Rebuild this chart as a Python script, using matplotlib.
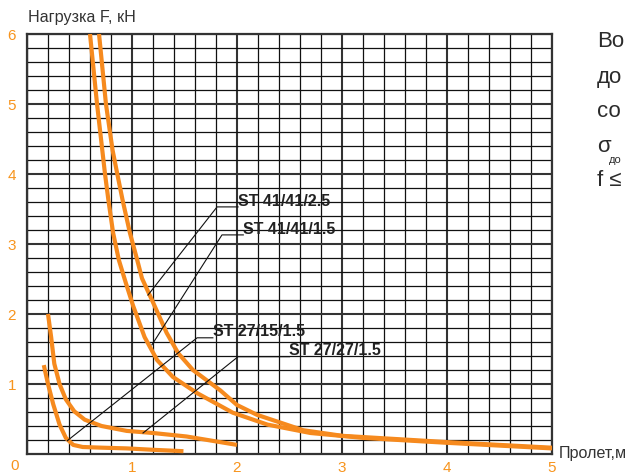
import matplotlib
matplotlib.use("Agg")
import matplotlib.pyplot as plt
from matplotlib.ticker import MultipleLocator

plt.rcParams['font.family'] = ['Liberation Sans', 'DejaVu Sans']

# --- Данные (пролет, м / нагрузка, кН) ---
span_41_15 = [0.60, 0.667, 0.743, 0.775, 0.82, 0.875, 0.94, 1.01, 1.12, 1.24,
              1.39, 1.62, 1.96, 2.29, 2.70, 3.20, 4.0, 5.0]
load_41_15 = [6.0, 5.0, 4.0, 3.63, 3.16, 2.77, 2.45, 2.12, 1.67, 1.34,
              1.10, 0.87, 0.59, 0.42, 0.30, 0.23, 0.16, 0.08]

span_41_25 = [0.686, 0.752, 0.815, 0.86, 0.91, 0.98, 1.05, 1.095, 1.19, 1.33,
              1.44, 1.58, 1.84, 2.0, 2.19, 2.63, 3.0, 4.0, 5.0]
load_41_25 = [6.0, 5.0, 4.34, 4.0, 3.63, 3.16, 2.77, 2.51, 2.20, 1.73,
              1.44, 1.20, 0.91, 0.70, 0.56, 0.34, 0.26, 0.17, 0.09]

span_27_27 = [0.20, 0.23, 0.26, 0.31, 0.37, 0.45, 0.55, 0.71, 0.95, 1.20,
              1.52, 1.84, 2.0]
load_27_27 = [2.00, 1.67, 1.29, 1.00, 0.78, 0.61, 0.49, 0.40, 0.33, 0.30,
              0.25, 0.17, 0.13]

span_27_15 = [0.16, 0.20, 0.25, 0.31, 0.37, 0.44, 0.53, 0.72, 0.95, 1.20, 1.49]
load_27_15 = [1.27, 1.00, 0.71, 0.42, 0.23, 0.13, 0.10, 0.09, 0.08, 0.06, 0.04]

curves = [(span_41_15, load_41_15), (span_41_25, load_41_25),
          (span_27_27, load_27_27), (span_27_15, load_27_15)]

# подписи профилей и выноски: точка на кривой, излом, начало текста
labels = ["ST 41/41/2.5", "ST 41/41/1.5", "ST 27/15/1.5", "ST 27/27/1.5"]
leader_tip = [(1.152, 2.27), (1.19, 1.56), (0.384, 0.19), (1.105, 0.30)]
leader_knee = [(1.81, 3.53), (1.857, 3.13), (1.62, 1.66), (2.01, 1.39)]
label_pos = [(2.01, 3.53), (2.06, 3.13), (1.77, 1.66), (2.50, 1.39)]

x_ticks = [1, 2, 3, 4, 5]
y_ticks = [1, 2, 3, 4, 5, 6]

# примечание справа, обрезанное краем рисунка
note_lines = ["Во", "до", "со"]
note_base = [47, 83, 117]

ORANGE = '#F68A1E'
TICK_ORANGE = '#F7941D'
DARK = '#2b2b2b'

W, H = 626, 475
fig = plt.figure(figsize=(W / 100, H / 100), dpi=100)
ax = fig.add_axes([27 / W, (H - 454) / H, 525 / W, 420 / H])

ax.set_xlim(0, 5)
ax.set_ylim(0, 6)

# --- Сетка ---
ax.xaxis.set_minor_locator(MultipleLocator(0.2))
ax.yaxis.set_minor_locator(MultipleLocator(0.2))
ax.set_xticks(x_ticks)
ax.set_yticks(y_ticks)
ax.grid(True, which='minor', color='#111111', linewidth=0.9)
ax.grid(True, which='major', color='#333333', linewidth=1.5)
ax.set_axisbelow(True)
ax.tick_params(which='both', length=0)
ax.tick_params(axis='x', labelcolor=TICK_ORANGE, labelsize=11, pad=5)
ax.tick_params(axis='y', labelcolor=TICK_ORANGE, labelsize=11, pad=8)
for s in ax.spines.values():
    s.set_linewidth(1.6)
    s.set_color('#333333')

ax.text(-0.115, -0.17, "0", color=TICK_ORANGE, fontsize=11,
        ha='center', va='center', clip_on=False)

# --- Кривые ---
for xs, ys in curves:
    ax.plot(xs, ys, color=ORANGE, linewidth=3.0, solid_joinstyle='round',
            solid_capstyle='butt', zorder=3)

# --- Выноски ---
for txt, tip, knee, pos in zip(labels, leader_tip, leader_knee, label_pos):
    ax.plot([tip[0], knee[0], pos[0]], [tip[1], knee[1], pos[1]],
            color='#111111', linewidth=0.8, zorder=4)
    ax.text(pos[0], pos[1] + 0.02, txt, fontsize=11.5, fontweight='bold',
            color='#222222', ha='left', va='baseline', zorder=5)


def px(x, y):
    return x / W, 1 - y / H


# --- Подписи осей ---
fig.text(*px(28, 22), "Нагрузка F, кН", fontsize=11.6, color='#333333',
         ha='left', va='baseline')
fig.text(*px(559, 458), "Пролет,м", fontsize=11.6, color='#333333',
         ha='left', va='baseline')

# --- Примечание справа ---
for line, base in zip(note_lines, note_base):
    fig.text(*px(597, base), line, fontsize=16, color=DARK,
             ha='left', va='baseline')
fig.text(*px(597, 152), "σ", fontsize=16, color=DARK, ha='left', va='baseline')
fig.text(*px(609, 163), "до", fontsize=8, color=DARK, ha='left', va='baseline')
fig.text(*px(597, 186), "f ≤", fontsize=16, color=DARK, ha='left', va='baseline')

fig.savefig("out.png", dpi=100)
plt.close(fig)
